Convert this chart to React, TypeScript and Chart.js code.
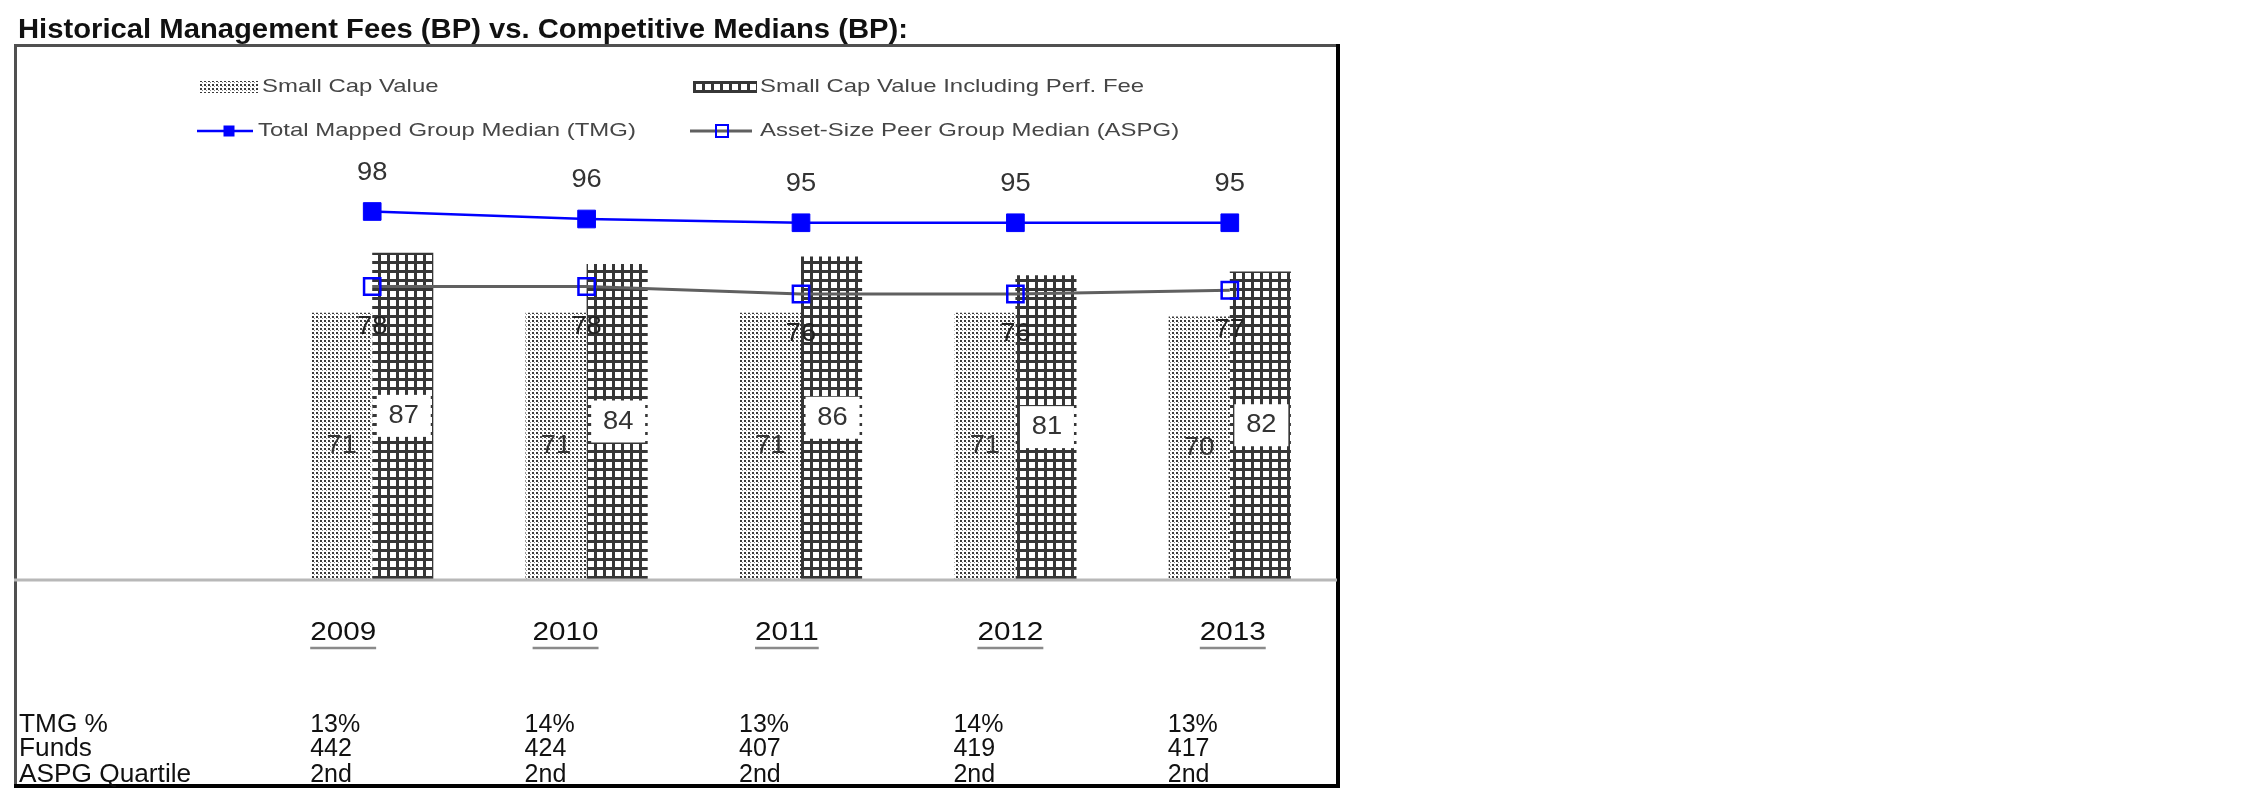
import React, { useEffect, useRef } from 'react';
import { Chart, registerables } from 'chart.js';

Chart.register(...registerables);

// ---------- data ----------
const title = 'Historical Management Fees (BP) vs. Competitive Medians (BP):';
const years = ['2009', '2010', '2011', '2012', '2013'];
const seriesNames = [
  'Small Cap Value',
  'Small Cap Value Including Perf. Fee',
  'Total Mapped Group Median (TMG)',
  'Asset-Size Peer Group Median (ASPG)',
];
const smallCapValue = [71, 71, 71, 71, 70];
const smallCapPerfFee = [87, 84, 86, 81, 82];
const tmgMedian = [98, 96, 95, 95, 95];
const aspgMedian = [78, 78, 76, 76, 77];
const rowLabels = ['TMG %', 'Funds', 'ASPG Quartile'];
const tmgPct = ['13%', '14%', '13%', '14%', '13%'];
const funds = ['442', '424', '407', '419', '417'];
const aspgQuartile = ['2nd', '2nd', '2nd', '2nd', '2nd'];

const FONT = '"Liberation Sans", Arial, Helvetica, sans-serif';

function makeDotPattern(): CanvasPattern | string {
  const c = document.createElement('canvas');
  c.width = 4;
  c.height = 4;
  const g = c.getContext('2d');
  if (!g) return '#999';
  g.fillStyle = '#ffffff';
  g.fillRect(0, 0, 4, 4);
  g.fillStyle = '#3a3a3a';
  g.fillRect(0, 0, 2, 2);
  g.fillStyle = '#8a8a8a';
  g.fillRect(2, 2, 1, 1);
  return g.createPattern(c, 'repeat') || '#999';
}

function makeGridPattern(): CanvasPattern | string {
  const c = document.createElement('canvas');
  c.width = 9;
  c.height = 9;
  const g = c.getContext('2d');
  if (!g) return '#444';
  g.fillStyle = '#ffffff';
  g.fillRect(0, 0, 9, 9);
  g.fillStyle = '#363636';
  g.fillRect(0, 0, 3, 9);
  g.fillRect(0, 0, 9, 3);
  return g.createPattern(c, 'repeat') || '#444';
}

function txt(
  ctx: CanvasRenderingContext2D,
  s: string,
  x: number,
  y: number,
  size: number,
  sx: number,
  align: CanvasTextAlign,
  color: string,
  bold = false,
  baseline: CanvasTextBaseline = 'middle'
) {
  ctx.save();
  ctx.font = `${bold ? 'bold ' : ''}${size}px ${FONT}`;
  ctx.fillStyle = color;
  ctx.textAlign = align;
  ctx.textBaseline = baseline;
  ctx.translate(x, y);
  ctx.scale(sx, 1);
  ctx.fillText(s, 0, 0);
  ctx.restore();
}

function textWidth(ctx: CanvasRenderingContext2D, s: string, size: number, sx: number, bold = false) {
  ctx.save();
  ctx.font = `${bold ? 'bold ' : ''}${size}px ${FONT}`;
  const w = ctx.measureText(s).width * sx;
  ctx.restore();
  return w;
}

export default function App() {
  const ref = useRef<HTMLCanvasElement | null>(null);

  useEffect(() => {
    const canvas = ref.current;
    if (!canvas) return;
    const dotPat = makeDotPattern();
    const gridPat = makeGridPattern();

    const decor = {
      id: 'decor',
      beforeDraw(chart: any) {
        const ctx: CanvasRenderingContext2D = chart.ctx;
        ctx.save();
        ctx.fillStyle = '#ffffff';
        ctx.fillRect(0, 0, chart.width, chart.height);

        // title
        ctx.font = `bold 27px ${FONT}`;
        const tw = ctx.measureText(title).width;
        txt(ctx, title, 18, 38, 27, 890 / tw, 'left', '#111111', true, 'alphabetic');

        // frame
        ctx.lineCap = 'butt';
        ctx.strokeStyle = '#505050';
        ctx.lineWidth = 3;
        ctx.beginPath();
        ctx.moveTo(14, 45.5);
        ctx.lineTo(1339, 45.5);
        ctx.moveTo(15.5, 44);
        ctx.lineTo(15.5, 786);
        ctx.stroke();
        ctx.strokeStyle = '#000000';
        ctx.lineWidth = 4;
        ctx.beginPath();
        ctx.moveTo(1338, 44);
        ctx.lineTo(1338, 788);
        ctx.moveTo(14, 786);
        ctx.lineTo(1340, 786);
        ctx.stroke();

        // legend
        const legColor = '#464646';
        const r1 = 87;
        const r2 = 131;
        ctx.fillStyle = dotPat as any;
        ctx.fillRect(200, r1 - 6, 58, 12);
        txt(ctx, seriesNames[0], 262, r1, 19, 1.26, 'left', legColor);
        ctx.fillStyle = gridPat as any;
        ctx.fillRect(693, r1 - 6, 64, 12);
        txt(ctx, seriesNames[1], 760, r1, 19, 1.26, 'left', legColor);

        ctx.strokeStyle = '#0000ff';
        ctx.lineWidth = 2.5;
        ctx.beginPath();
        ctx.moveTo(197, r2);
        ctx.lineTo(253, r2);
        ctx.stroke();
        ctx.fillStyle = '#0000ff';
        ctx.fillRect(223.5, r2 - 5.5, 11, 11);
        txt(ctx, seriesNames[2], 258, r2, 19, 1.26, 'left', legColor);

        ctx.strokeStyle = '#606060';
        ctx.lineWidth = 3;
        ctx.beginPath();
        ctx.moveTo(690, r2);
        ctx.lineTo(752, r2);
        ctx.stroke();
        ctx.strokeStyle = '#0000ff';
        ctx.lineWidth = 2;
        ctx.strokeRect(716, r2 - 6, 12, 12);
        txt(ctx, seriesNames[3], 760, r2, 19, 1.26, 'left', legColor);
        ctx.restore();
      },
      afterDatasetsDraw(chart: any) {
        const ctx: CanvasRenderingContext2D = chart.ctx;
        const xs = chart.scales.x;
        ctx.save();

        // baseline
        const yBase = chart.scales.y.getPixelForValue(0);
        ctx.strokeStyle = '#b8b8b8';
        ctx.lineWidth = 3;
        ctx.beginPath();
        ctx.moveTo(14, yBase + 1);
        ctx.lineTo(1337, yBase + 1);
        ctx.stroke();

        const labelColor = '#333333';
        // bar labels
        const m0 = chart.getDatasetMeta(0);
        m0.data.forEach((el: any, i: number) => {
          txt(ctx, String(smallCapValue[i]), el.x, (el.y + el.base) / 2, 26, 1.05, 'center', labelColor);
        });
        const m1 = chart.getDatasetMeta(1);
        m1.data.forEach((el: any, i: number) => {
          const cy = (el.y + el.base) / 2;
          ctx.fillStyle = '#ffffff';
          ctx.fillRect(el.x - 26, cy - 21, 54, 42);
          txt(ctx, String(smallCapPerfFee[i]), el.x + 1, cy, 26, 1.05, 'center', labelColor);
        });
        const m2 = chart.getDatasetMeta(2);
        m2.data.forEach((el: any, i: number) => {
          txt(ctx, String(tmgMedian[i]), el.x, el.y - 39, 26, 1.05, 'center', labelColor);
        });
        const m3 = chart.getDatasetMeta(3);
        m3.data.forEach((el: any, i: number) => {
          txt(ctx, String(aspgMedian[i]), el.x, el.y + 40, 26, 1.05, 'center', '#222222');
        });

        // table
        const tColor = '#111111';
        const rowsY = [725, 749, 775];
        const rows = [tmgPct, funds, aspgQuartile];
        rowLabels.forEach((l, r) => {
          txt(ctx, l, 19, rowsY[r], 25, 1.05, 'left', tColor);
        });
        years.forEach((yr, i) => {
          const px = xs.getPixelForValue(i);
          const left = px - 62 + i * 8;
          txt(ctx, yr, left, 633, 26, 1.14, 'left', tColor);
          const w = textWidth(ctx, yr, 26, 1.14);
          ctx.strokeStyle = '#8a8a8a';
          ctx.lineWidth = 2.5;
          ctx.beginPath();
          ctx.moveTo(left, 648);
          ctx.lineTo(left + w, 648);
          ctx.stroke();
          rows.forEach((row, r) => {
            txt(ctx, row[i], px - 62, rowsY[r], 25, 1.0, 'left', tColor);
          });
        });
        ctx.restore();
      },
    };

    const chart = new Chart(canvas, {
      type: 'bar',
      data: {
        labels: years,
        datasets: [
          {
            type: 'bar',
            label: seriesNames[0],
            data: smallCapValue,
            backgroundColor: dotPat as any,
            borderWidth: 0,
            categoryPercentage: 0.57,
            barPercentage: 1,
            order: 2,
          },
          {
            type: 'bar',
            label: seriesNames[1],
            data: smallCapPerfFee,
            backgroundColor: gridPat as any,
            borderWidth: 0,
            categoryPercentage: 0.57,
            barPercentage: 1,
            order: 2,
          },
          {
            type: 'line',
            label: seriesNames[2],
            data: tmgMedian,
            borderColor: '#0000ff',
            borderWidth: 2.5,
            pointStyle: 'rect',
            pointRadius: 12.5,
            pointBackgroundColor: '#0000ff',
            pointBorderColor: '#0000ff',
            pointBorderWidth: 1,
            tension: 0,
            order: 0,
          },
          {
            type: 'line',
            label: seriesNames[3],
            data: aspgMedian,
            borderColor: '#606060',
            borderWidth: 3,
            pointStyle: 'rect',
            pointRadius: 11.5,
            pointBackgroundColor: 'rgba(0,0,0,0)',
            pointBorderColor: '#0000ff',
            pointBorderWidth: 2.5,
            tension: 0,
            order: 1,
          },
        ],
      },
      options: {
        responsive: false,
        animation: false,
        devicePixelRatio: 1,
        layout: { padding: { left: 265, right: 913, top: 129, bottom: 217 } },
        plugins: {
          legend: { display: false },
          tooltip: { enabled: false },
          title: { display: false },
        },
        scales: {
          x: { display: false, offset: true },
          y: { display: false, min: 0, max: 120 },
        },
      },
      plugins: [decor],
    });
    return () => chart.destroy();
  }, []);

  return (
    <div style={{ position: 'absolute', left: 0, top: 0, width: 2250, height: 796 }}>
      <canvas ref={ref} width={2250} height={796} style={{ display: 'block', width: 2250, height: 796 }} />
    </div>
  );
}
